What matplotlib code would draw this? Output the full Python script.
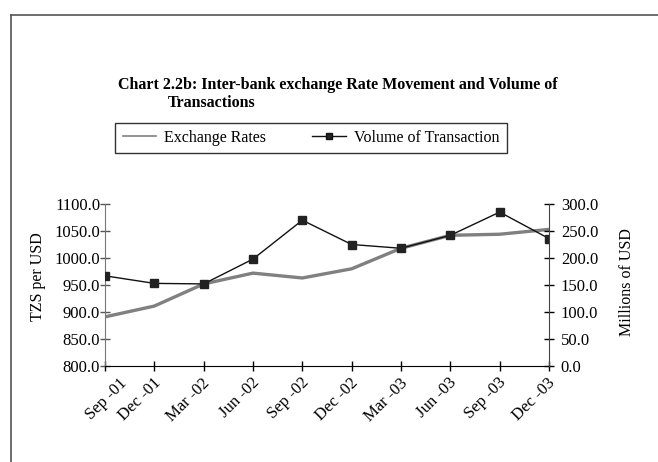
import numpy as np
import matplotlib
matplotlib.use("Agg")
import matplotlib.pyplot as plt
import matplotlib.transforms as mtransforms
from matplotlib.lines import Line2D

plt.rcParams['font.family'] = ['Liberation Serif', 'DejaVu Serif']

# data
quarters = ["Sep -01", "Dec -01", "Mar -02", "Jun -02", "Sep -02",
            "Dec -02", "Mar -03", "Jun -03", "Sep -03", "Dec -03"]
exchange_rate = [891, 911, 952, 972, 963, 980, 1018, 1042, 1044, 1053]
volume = [167, 153, 152, 198, 270, 225, 218, 242, 285, 236]

fig = plt.figure(figsize=(6.58, 4.62), dpi=100)

# outer frame (only top and left edges show in the original)
fig.add_artist(Line2D([11/658, 11/658], [0, 1 - 15/462], color='#555555', lw=1.2,
                      transform=fig.transFigure))
fig.add_artist(Line2D([11/658, 1], [1 - 15/462, 1 - 15/462], color='#555555', lw=1.2,
                      transform=fig.transFigure))

ax = fig.add_axes([105/658, 1 - 366/462, 444/658, 162/462])
ax2 = ax.twinx()

x = np.arange(len(quarters))
ax.plot(x, exchange_rate, color='#808080', lw=2.4, solid_capstyle='butt',
        label='Exchange Rates')
ax2.plot(x, volume, color='#111111', lw=1.0, marker='s', ms=5.3,
         markerfacecolor='#222222', markeredgecolor='#222222',
         label='Volume of Transaction')

ax.set_xlim(0, 9)
ax.set_ylim(800, 1100)
ax2.set_ylim(0, 300)
ax.set_yticks(np.arange(800, 1101, 50))
ax2.set_yticks(np.arange(0, 301, 50))
ax.set_yticklabels(["%.1f" % v for v in np.arange(800, 1101, 50)], fontsize=12)
ax2.set_yticklabels(["%.1f" % v for v in np.arange(0, 301, 50)], fontsize=12)
ax.set_xticks(x)
ax.set_xticklabels(quarters, rotation=45, ha='right', va='center',
                   rotation_mode='anchor', fontsize=12)

for a in (ax, ax2):
    a.spines['top'].set_visible(False)
    a.tick_params(direction='inout', length=7, width=1)
ax.spines['left'].set_color('#777777')
ax.tick_params(axis='y', colors='#555555', labelcolor='black', pad=0)
ax2.spines['right'].set_color('#444444')
ax2.tick_params(axis='y', pad=5)
ax2.spines['left'].set_visible(False)
ax2.spines['bottom'].set_visible(False)
ax.spines['right'].set_visible(False)
ax.tick_params(axis='x', pad=7)

# shift x labels slightly right like the original; the first one more
for i, lab in enumerate(ax.get_xticklabels()):
    dx = 20 if i == 0 else 4
    lab.set_transform(lab.get_transform() +
                      mtransforms.ScaledTranslation(dx/100, 0, fig.dpi_scale_trans))

ax.set_ylabel("TZS per USD", fontsize=11.5)
ax.yaxis.set_label_coords((46 - 105)/444, (366 - 277)/162)
ax2.set_ylabel("Millions of USD", fontsize=11.5)
ax2.yaxis.set_label_coords((619 - 105)/444, (366 - 282)/162)

fig.text(118/658, 1 - 85/462, "Chart 2.2b: Inter-bank exchange Rate Movement and Volume of",
         fontsize=11.5, fontweight='bold', va='center', ha='left')
fig.text(168/658, 1 - 103/462, "Transactions",
         fontsize=11.5, fontweight='bold', va='center', ha='left')

handles = [Line2D([], [], color='#808080', lw=1.2),
           Line2D([], [], color='#111111', lw=1.0, marker='s', ms=5,
                  markerfacecolor='#222222')]
leg = fig.legend(handles, ['Exchange Rates', 'Volume of Transaction'],
                 loc='center', bbox_to_anchor=(311/658, 1 - 138/462), ncol=2,
                 frameon=True, fancybox=False, edgecolor='black', fontsize=11.5,
                 handlelength=2.1, handletextpad=0.5, columnspacing=2.9,
                 borderpad=0.45)
leg.get_frame().set_linewidth(1.0)

fig.savefig("out.png", dpi=100)
